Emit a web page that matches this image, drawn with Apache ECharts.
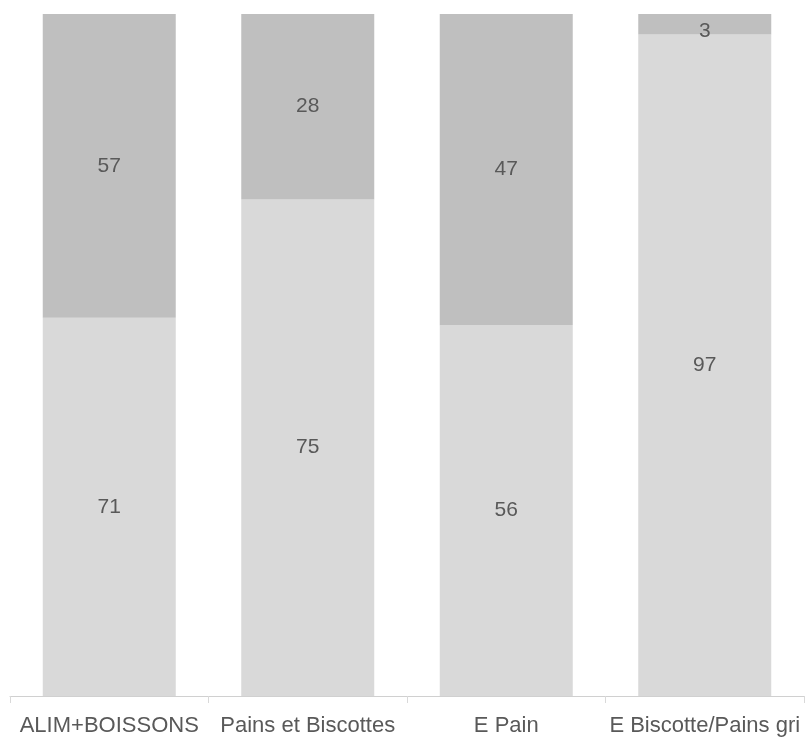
<!DOCTYPE html>
<html><head><meta charset="utf-8">
<script src="https://cdn.jsdelivr.net/npm/echarts@6/dist/echarts.min.js"></script>
<style>html,body{margin:0;padding:0;background:#fff}#c{width:810px;height:740px}</style>
</head><body><div id="c"></div>
<script>
const categories = ['ALIM+BOISSONS', 'Pains et Biscottes', 'E Pain', 'E Biscotte/Pains grillés'];
const lowerValues = [71, 75, 56, 97];
const upperValues = [57, 28, 47, 3];

const totals = lowerValues.map((v, i) => v + upperValues[i]);
const lowerPct = lowerValues.map((v, i) => ({ value: v / totals[i] * 100, raw: v }));
const upperPct = upperValues.map((v, i) => {
  const pct = v / totals[i] * 100;
  const item = { value: pct, raw: v };
  if (pct < 5) item.label = { offset: [0, 7] };
  return item;
});

const chart = echarts.init(document.getElementById('c'));
const lbl = {
  show: true, position: 'inside', color: '#595959', fontSize: 21,
  fontFamily: 'Liberation Sans, Arial, sans-serif',
  formatter: p => p.data.raw
};
chart.setOption({
  animation: false,
  grid: { left: 10, right: 6, top: 14, bottom: 44, containLabel: false, outerBoundsMode: 'none' },
  xAxis: {
    type: 'category', data: categories,
    axisLine: { lineStyle: { color: '#d0d0d0' } },
    axisTick: { show: true, length: 7, lineStyle: { color: '#d9d9d9' } },
    axisLabel: { color: '#595959', fontSize: 22, margin: 19, interval: 0, hideOverlap: false,
      width: 196, overflow: 'truncate', ellipsis: '',
      fontFamily: 'Liberation Sans, Arial, sans-serif' }
  },
  yAxis: { type: 'value', min: 0, max: 100, show: false, splitLine: { show: false } },
  series: [
    { type: 'bar', stack: 's', data: lowerPct, barWidth: '67%',
      itemStyle: { color: '#d9d9d9' }, label: lbl },
    { type: 'bar', stack: 's', data: upperPct, barWidth: '67%',
      itemStyle: { color: '#bfbfbf' }, label: lbl }
  ]
});
</script></body></html>
